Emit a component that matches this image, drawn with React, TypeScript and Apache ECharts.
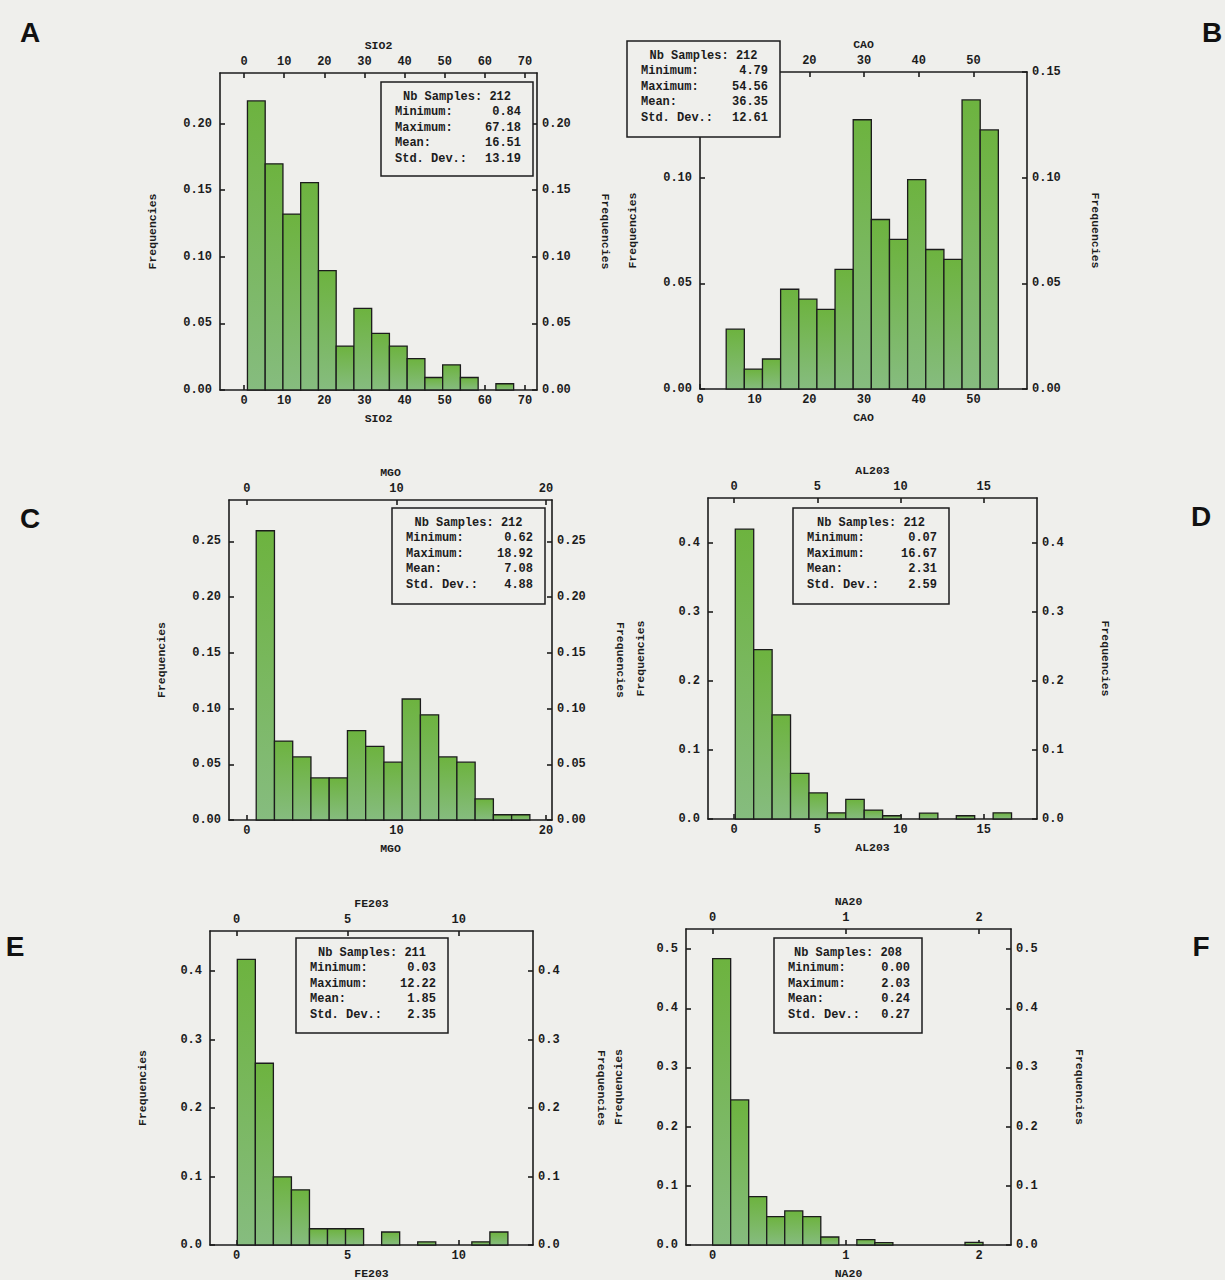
import React, { useEffect, useRef } from 'react';
import * as echarts from 'echarts';

// ---------- DATA ----------
const panelLetters = ['A', 'B', 'C', 'D', 'E', 'F'];
const variableNames = ['SIO2', 'CAO', 'MGO', 'AL203', 'FE203', 'NA20'];
const nbSamples = [212, 212, 212, 212, 211, 208];
const minimums = [0.84, 4.79, 0.62, 0.07, 0.03, 0.0];
const maximums = [67.18, 54.56, 18.92, 16.67, 12.22, 2.03];
const means = [16.51, 36.35, 7.08, 2.31, 1.85, 0.24];
const stdDevs = [13.19, 12.61, 4.88, 2.59, 2.35, 0.27];

const freqSIO2 = [0.217, 0.1698, 0.1321, 0.1557, 0.0896, 0.033, 0.0613, 0.0425, 0.033, 0.0236, 0.0094, 0.0189, 0.0094, 0, 0.0047];
const freqCAO = [0.0283, 0.0094, 0.0142, 0.0472, 0.0425, 0.0377, 0.0566, 0.1274, 0.0802, 0.0708, 0.0991, 0.066, 0.0613, 0.1368, 0.1226];
const freqMGO = [0.2594, 0.0708, 0.0566, 0.0377, 0.0377, 0.0802, 0.066, 0.0519, 0.1085, 0.0943, 0.0566, 0.0519, 0.0189, 0.0047, 0.0047];
const freqAL2O3 = [0.4198, 0.2453, 0.1509, 0.066, 0.0377, 0.009, 0.0283, 0.013, 0.0047, 0, 0.0085, 0, 0.0047, 0, 0.009];
const freqFE2O3 = [0.4171, 0.2654, 0.0995, 0.0806, 0.0237, 0.0237, 0.0237, 0, 0.019, 0, 0.0047, 0, 0, 0.0047, 0.019];
const freqNA2O = [0.484, 0.2452, 0.0817, 0.0481, 0.0577, 0.0481, 0.0135, 0, 0.009, 0.004, 0, 0, 0, 0, 0.0045];
const frequencies = [freqSIO2, freqCAO, freqMGO, freqAL2O3, freqFE2O3, freqNA2O];

const xTicksSIO2 = [0, 10, 20, 30, 40, 50, 60, 70];
const xTicksCAO = [0, 10, 20, 30, 40, 50];
const xTicksMGO = [0, 10, 20];
const xTicksAL2O3 = [0, 5, 10, 15];
const xTicksFE2O3 = [0, 5, 10];
const xTicksNA2O = [0, 1, 2];
const xTicks = [xTicksSIO2, xTicksCAO, xTicksMGO, xTicksAL2O3, xTicksFE2O3, xTicksNA2O];
// top-axis labels of panel B that are not hidden by its statistics box
const xTopLabelsCAO = [20, 30, 40, 50];

const yTicksSIO2 = [0, 0.05, 0.1, 0.15, 0.2];
const yTicksCAO = [0, 0.05, 0.1, 0.15];
const yTicksMGO = [0, 0.05, 0.1, 0.15, 0.2, 0.25];
const yTicksAL2O3 = [0, 0.1, 0.2, 0.3, 0.4];
const yTicksFE2O3 = [0, 0.1, 0.2, 0.3, 0.4];
const yTicksNA2O = [0, 0.1, 0.2, 0.3, 0.4, 0.5];
const yTicks = [yTicksSIO2, yTicksCAO, yTicksMGO, yTicksAL2O3, yTicksFE2O3, yTicksNA2O];
// left-axis labels of panel B that are not hidden by its statistics box
const yLeftLabelsCAO = [0, 0.05, 0.1];
const yDecimals = [2, 2, 2, 1, 1, 1];

const statLabels = ['Minimum:', 'Maximum:', 'Mean:', 'Std. Dev.:'];

// ---------- LAYOUT / STYLE ----------
const BG = '#efefec';
const INK = '#1c1c1c';
const MONO = '"Liberation Mono", "DejaVu Sans Mono", monospace';
const FS = 12;

const grids = [
  { left: 220, top: 73, width: 317, height: 317 },
  { left: 700, top: 72, width: 327, height: 317 },
  { left: 229, top: 500, width: 323, height: 320 },
  { left: 708, top: 498, width: 329, height: 321 },
  { left: 210, top: 931, width: 323, height: 315 },
  { left: 686, top: 929, width: 325, height: 317 },
];
const xRanges = [[-6, 73], [0, 59.8], [-1.2, 20.4], [-1.57, 18.2], [-1.2, 13.35], [-0.2, 2.24]];
const yMaxes = [0.238, 0.15, 0.287, 0.465, 0.4585, 0.534];
const boxes = [
  [381, 82, 152, 94],
  [627, 41, 153, 96],
  [392, 508, 153, 96],
  [793, 508, 156, 96],
  [296, 938, 152, 95],
  [774, 938, 148, 95],
];
const letterPos = [[30, 32], [1212, 32], [30, 518], [1201, 516], [15, 946], [1201, 946]];

function buildOption() {
  const lineStyle = { color: INK, width: 1.6 };
  const labelStyle = { fontFamily: MONO, fontWeight: 'bold' as const, fontSize: FS, color: INK };
  const xAxes: any[] = [];
  const yAxes: any[] = [];
  const series: any[] = [];
  const graphic: any[] = [];

  for (let i = 0; i < 6; i++) {
    const [xmin, xmax] = xRanges[i];
    for (const pos of ['bottom', 'top']) {
      const labels = i === 1 && pos === 'top' ? xTopLabelsCAO : xTicks[i];
      xAxes.push({
        type: 'value',
        gridIndex: i,
        position: pos,
        min: xmin,
        max: xmax,
        name: variableNames[i],
        nameLocation: 'middle',
        nameGap: 22,
        nameTextStyle: { ...labelStyle, fontSize: 11.5 },
        axisLine: { show: true, onZero: false, lineStyle },
        axisTick: { show: true, inside: true, length: 5, customValues: xTicks[i], lineStyle },
        axisLabel: {
          ...labelStyle,
          margin: 5,
          customValues: labels,
          formatter: (v: number) => String(v),
        },
        splitLine: { show: false },
      });
    }
    for (const pos of ['left', 'right']) {
      const labels = i === 1 && pos === 'left' ? yLeftLabelsCAO : yTicks[i];
      yAxes.push({
        type: 'value',
        gridIndex: i,
        position: pos,
        min: 0,
        max: yMaxes[i],
        name: 'Frequencies',
        nameLocation: 'middle',
        nameGap: 62,
        nameRotate: pos === 'left' ? 90 : -90,
        nameTextStyle: { ...labelStyle, fontSize: 11.5 },
        axisLine: { show: true, onZero: false, lineStyle },
        axisTick: { show: true, inside: true, length: 5, customValues: yTicks[i], lineStyle },
        axisLabel: {
          ...labelStyle,
          margin: pos === 'left' ? 8 : 5,
          customValues: labels,
          formatter: (v: number) => v.toFixed(yDecimals[i]),
        },
        splitLine: { show: false },
      });
    }

    const f = frequencies[i];
    const w = (maximums[i] - minimums[i]) / f.length;
    const data = f.map((val, k) => [minimums[i] + k * w, minimums[i] + (k + 1) * w, val]);
    series.push({
      type: 'custom',
      xAxisIndex: 2 * i,
      yAxisIndex: 2 * i,
      data,
      encode: { x: [0, 1], y: 2 },
      renderItem: (params: any, api: any) => {
        const y = api.value(2);
        if (!y) return null;
        const p0 = api.coord([api.value(0), y]);
        const p1 = api.coord([api.value(1), 0]);
        return {
          type: 'rect',
          shape: { x: p0[0], y: p0[1], width: p1[0] - p0[0], height: p1[1] - p0[1] },
          style: {
            fill: new echarts.graphic.LinearGradient(0, 0, 0, 1, [
              { offset: 0, color: '#6db33f' },
              { offset: 1, color: '#86bc7f' },
            ]),
            stroke: INK,
            lineWidth: 1.3,
          },
        };
      },
    });

    // statistics box
    const [bx, by, bw, bh] = boxes[i];
    const values = [minimums[i], maximums[i], means[i], stdDevs[i]];
    graphic.push({
      type: 'rect',
      z: 100,
      shape: { x: bx, y: by, width: bw, height: bh },
      style: { fill: BG, stroke: INK, lineWidth: 1.5 },
    });
    graphic.push({
      type: 'text',
      z: 101,
      x: bx + bw / 2,
      y: by + 15,
      style: {
        text: `Nb Samples: ${nbSamples[i]}`,
        align: 'center',
        verticalAlign: 'middle',
        fontFamily: MONO,
        fontWeight: 'bold',
        fontSize: FS,
        fill: INK,
      },
    });
    statLabels.forEach((lab, r) => {
      const ty = by + 15 + 15.4 * (r + 1);
      graphic.push({
        type: 'text',
        z: 101,
        x: bx + 14,
        y: ty,
        style: { text: lab, align: 'left', verticalAlign: 'middle', fontFamily: MONO, fontWeight: 'bold', fontSize: FS, fill: INK },
      });
      graphic.push({
        type: 'text',
        z: 101,
        x: bx + bw - 12,
        y: ty,
        style: { text: values[r].toFixed(2), align: 'right', verticalAlign: 'middle', fontFamily: MONO, fontWeight: 'bold', fontSize: FS, fill: INK },
      });
    });

    graphic.push({
      type: 'text',
      z: 101,
      x: letterPos[i][0],
      y: letterPos[i][1],
      style: {
        text: panelLetters[i],
        align: 'center',
        verticalAlign: 'middle',
        fontFamily: '"Liberation Sans", Arial, sans-serif',
        fontWeight: 'bold',
        fontSize: 28,
        fill: '#111',
      },
    });
  }

  return {
    animation: false,
    backgroundColor: BG,
    grid: grids.map((g) => ({ ...g, containLabel: false })),
    xAxis: xAxes,
    yAxis: yAxes,
    series,
    graphic,
  };
}

export default function App() {
  const ref = useRef<HTMLDivElement>(null);
  useEffect(() => {
    if (!ref.current) return;
    const chart = echarts.init(ref.current, undefined, { renderer: 'svg' });
    chart.setOption(buildOption());
    return () => chart.dispose();
  }, []);
  return (
    <div
      ref={ref}
      style={{ position: 'fixed', left: 0, top: 0, width: 1225, height: 1280, background: BG }}
    />
  );
}
